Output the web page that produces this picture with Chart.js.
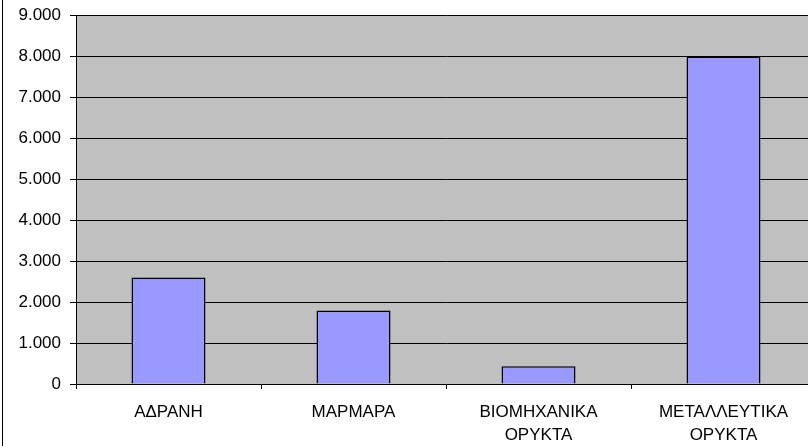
<!DOCTYPE html>
<html>
<head>
<meta charset="utf-8">
<script src="https://cdn.jsdelivr.net/npm/chart.js@4/dist/chart.umd.min.js"></script>
<style>
    html, body { margin: 0; padding: 0; background: #fff; overflow: hidden; }
    #wrap { width: 816px; height: 446px; position: relative; }
</style>
</head>
<body>
<div id="wrap"><canvas id="chart"></canvas></div>
<script>
// κατηγορίες και τιμές (χιλ.)
const categories = [['ΑΔΡΑΝΗ'], ['ΜΑΡΜΑΡΑ'], ['ΒΙΟΜΗΧΑΝΙΚΑ', 'ΟΡΥΚΤΑ'], ['ΜΕΤΑΛΛΕΥΤΙΚΑ', 'ΟΡΥΚΤΑ']];
const values = [2595, 1790, 435, 7990];
const yTicks = [0, 1000, 2000, 3000, 4000, 5000, 6000, 7000, 8000, 9000];

const FONT = 'Arial, "Liberation Sans", sans-serif';

/**
 * γκρι φόντο στην περιοχή σχεδίασης και γραμμή πλαισίου αριστερά
 */
const plotBackground = {
    id: 'plotBackground',
    beforeDraw(chart) {
        const {ctx, chartArea} = chart;
        ctx.save();
        ctx.fillStyle = '#c0c0c0';
        ctx.fillRect(chartArea.left, chartArea.top, chartArea.right - chartArea.left, chartArea.bottom - chartArea.top);
        ctx.strokeStyle = '#000';
        ctx.lineWidth = 1;
        ctx.beginPath();
        ctx.moveTo(2.5, 0);
        ctx.lineTo(2.5, chart.height);
        ctx.stroke();
        ctx.restore();
    }
};

function fmt(v) {
    return String(v).replace(/\B(?=(\d{3})+(?!\d))/g, '.');
}

new Chart(document.getElementById('chart'), {
    type: 'bar',
    data: {
        labels: categories,
        datasets: [{
            data: values,
            backgroundColor: '#9999ff',
            borderColor: '#000',
            borderWidth: 1.5,
            categoryPercentage: 1,
            barPercentage: 0.4
        }]
    },
    options: {
        responsive: true,
        maintainAspectRatio: false,
        animation: false,
        layout: {padding: {top: 15, right: 0, bottom: 0, left: 0}},
        plugins: {legend: {display: false}, tooltip: {enabled: false}},
        scales: {
            x: {
                offset: true,
                grid: {display: true, drawOnChartArea: false, offset: true, color: '#000', tickLength: 5},
                border: {display: true, color: '#000', width: 1},
                ticks: {color: '#000', font: {family: FONT, size: 17, lineHeight: 1.35}, padding: 12, maxRotation: 0, autoSkip: false},
                afterFit(scale) {
                    scale.height = 62;
                    scale.paddingLeft = 0;
                    scale.paddingRight = 0;
                }
            },
            y: {
                min: 0,
                max: 9000,
                afterBuildTicks(scale) { scale.ticks = yTicks.map(v => ({value: v})); },
                grid: {color: '#000', tickLength: 6},
                border: {display: true, color: '#000', width: 1},
                ticks: {color: '#000', font: {family: FONT, size: 17}, padding: 9, callback: v => fmt(v)},
                afterFit(scale) {
                    scale.width = 76;
                    scale.paddingTop = 0;
                    scale.paddingBottom = 0;
                }
            }
        }
    },
    plugins: [plotBackground]
});
</script>
</body>
</html>
